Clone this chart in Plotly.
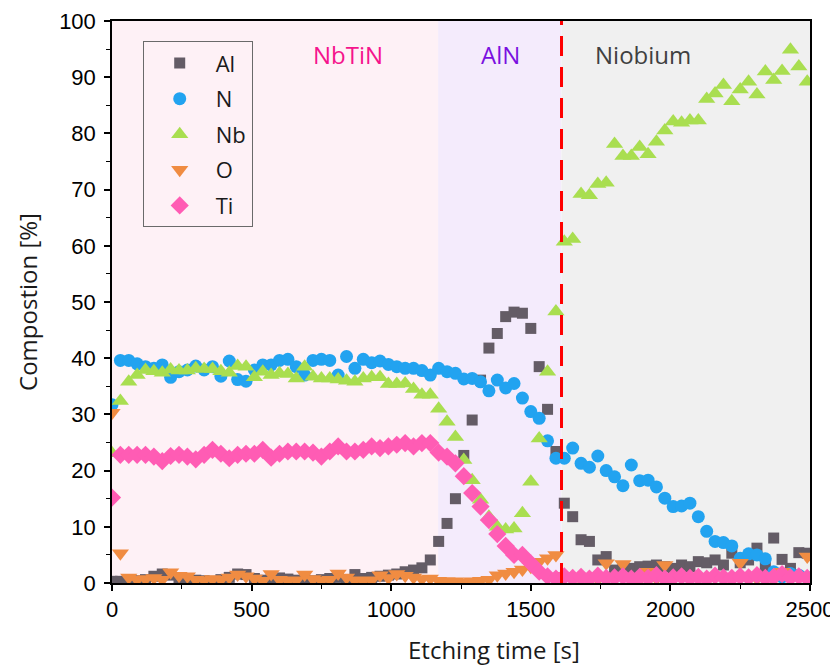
import plotly.graph_objects as go

# Etching time grid [s]
time_s = list(range(0, 2520, 30))

al = [0.3, 0.3, 0.5, 0.4, 0.6, 1.2, 1.6, 1.4, 0.8, 0.6, 0.5, 0.4, 0.3, 0.6, 1.0, 1.6, 1.5, 0.8, 0.5, 0.6,
      0.9, 0.7, 0.5, 0.6, 0.4, 0.6, 0.8, 1.0, 0.6, 1.5, 0.8, 1.0, 1.2, 1.4, 1.6, 2.0, 2.3, 2.7, 4.1, 7.4,
      10.6, 15.0, 22.7, 29.0, 36.1, 41.8, 44.4, 47.4, 48.2, 48.0, 45.3, 38.5, 30.9, 23.4, 14.2, 11.8, 7.7, 7.4, 4.1, 4.7,
      2.3, 2.6, 2.6, 2.9, 3.0, 3.2, 2.9, 2.6, 3.2, 2.9, 3.8, 3.6, 4.1, 3.2, 5.3, 3.6, 4.1, 6.2, 2.9, 8.0,
      4.2, 2.6, 5.4, 5.3]

n = [31.7, 39.6, 39.6, 39.0, 38.5, 38.2, 38.8, 36.6, 37.6, 37.9, 38.6, 37.9, 38.5, 36.8, 39.5, 36.2, 35.9, 37.9, 38.8, 38.8,
     39.6, 39.8, 38.5, 37.0, 39.6, 39.8, 39.6, 37.0, 40.3, 38.2, 39.8, 39.2, 39.5, 38.9, 38.5, 38.2, 38.2, 37.8, 37.0, 38.2,
     37.6, 37.3, 36.3, 36.4, 35.8, 34.2, 36.1, 34.7, 35.5, 32.9, 30.5, 29.3, 25.3, 22.2, 22.2, 24.0, 21.3, 20.6, 22.6, 20.0,
     18.9, 17.3, 21.0, 18.2, 18.3, 17.1, 15.1, 13.6, 13.7, 14.2, 11.8, 9.2, 7.4, 7.2, 6.6, 4.4, 5.2, 5.0, 4.3, 2.0,
     1.1, 1.7, 1.4, 1.0]

nb = [23.1, 32.4, 35.8, 37.0, 37.9, 37.7, 37.4, 38.0, 37.8, 37.8, 38.2, 38.1, 38.1, 37.7, 37.4, 38.6, 38.5, 36.6, 37.6, 37.0,
      37.3, 37.2, 36.4, 38.5, 36.7, 36.4, 36.4, 36.2, 36.0, 35.8, 36.4, 36.6, 36.6, 35.4, 35.4, 35.5, 34.5, 33.5, 33.5, 31.0,
      28.7, 26.0, 21.9, 18.3, 14.8, 11.8, 10.0, 9.5, 9.7, 12.4, 18.0, 25.7, 37.6, 48.3, 60.7, 61.2, 69.2, 69.0, 71.0, 71.2,
      78.1, 76.0, 76.0, 77.6, 76.3, 78.5, 80.5, 82.1, 81.9, 82.3, 82.3, 86.1, 87.1, 88.6, 85.7, 87.8, 89.2, 86.9, 91.0, 89.5,
      91.1, 94.9, 91.9, 89.2]

o = [30.3, 5.3, 1.0, 0.6, 0.7, 0.9, 0.6, 1.9, 1.3, 1.2, 0.6, 0.5, 0.7, 0.6, 1.0, 1.5, 1.2, 0.8, 0.4, 1.6,
     0.6, 0.4, 0.5, 1.5, 0.7, 0.4, 0.6, 1.7, 1.0, 0.5, 0.4, 0.5, 1.4, 0.9, 1.6, 1.3, 1.0, 0.7, 0.8, 0.4,
     0.3, 0.3, 0.2, 0.3, 0.4, 0.6, 1.4, 1.7, 2.0, 2.4, 2.9, 3.8, 4.4, 5.0, 1.3, 0.8, 0.6, 1.0, 0.7, 3.5,
     0.8, 3.4, 0.9, 0.6, 2.0, 0.8, 3.2, 0.7, 0.9, 0.6, 0.8, 0.7, 1.0, 0.6, 0.9, 3.6, 0.7, 0.8, 1.0, 0.6,
     2.0, 0.7, 1.2, 4.7]

ti = [15.2, 22.8, 22.8, 22.8, 22.8, 22.5, 21.7, 22.6, 22.8, 22.5, 22.0, 22.8, 23.7, 23.0, 22.2, 22.8, 23.0, 23.0, 23.7, 22.3,
      23.0, 23.4, 23.4, 23.4, 23.2, 22.5, 23.4, 24.3, 23.4, 23.4, 23.7, 24.3, 24.0, 24.3, 24.6, 24.9, 24.3, 24.9, 24.9, 23.2,
      22.5, 21.3, 19.0, 16.0, 13.6, 11.2, 8.7, 6.6, 5.0, 5.0, 3.5, 2.0, 1.2, 0.8, 1.2, 0.9, 1.1, 0.8, 1.3, 0.9,
      1.0, 1.2, 0.8, 1.1, 0.9, 1.4, 0.8, 1.0, 1.2, 0.9, 1.1, 0.8, 1.3, 1.0, 0.9, 1.2, 1.0, 1.4, 0.9, 1.1,
      1.6, 1.0, 1.2, 0.9]

# Regions
region_names = ["NbTiN", "AlN", "Niobium"]
region_starts = [0, 1168, 1610]
region_ends = [1168, 1610, 2500]
region_fills = ["#FEF1F6", "#F4EBFC", "#F0F0F0"]
region_text_colors = ["#F5148C", "#7A10E0", "#404040"]
region_label_x = [845, 1390, 1902]
region_label_y = 94
boundary_time = 1610

x_title = "Etching time [s]"
y_title = "Compostion [%]"

series = [
    ("Al", al, "square", "#645C66", 11),
    ("N", n, "circle", "#22A3F0", 13),
    ("Nb", nb, "triangle-up", "#A9DE50", 15),
    ("O", o, "triangle-down", "#F08C42", 15),
    ("Ti", ti, "diamond", "#FF5CB4", 14),
]

fig = go.Figure()
for name, vals, sym, col, sz in series:
    fig.add_trace(go.Scatter(
        x=time_s, y=vals, mode="markers", name=name,
        marker=dict(symbol=sym, color=col, size=sz, line=dict(width=0)),
        legendgroup=name, cliponaxis=True,
    ))

for s, e, c in zip(region_starts, region_ends, region_fills):
    fig.add_shape(type="rect", xref="x", yref="paper", x0=s, x1=e, y0=0, y1=1,
                  fillcolor=c, line=dict(width=0), layer="below")

fig.add_shape(type="line", xref="x", yref="paper", x0=boundary_time, x1=boundary_time, y0=0, y1=1,
              line=dict(color="#FF0000", width=3, dash="20px,11px"), layer="above")

for name, lx, tc in zip(region_names, region_label_x, region_text_colors):
    fig.add_annotation(x=lx, y=region_label_y, xref="x", yref="y", text=name, showarrow=False,
                       font=dict(family="Open Sans", size=24, color=tc), xanchor="center", yanchor="middle")

# x-axis title (placed slightly right of centre as in the original)
fig.add_annotation(x=0.547, y=-0.118, xref="paper", yref="paper", text=x_title, showarrow=False,
                   font=dict(family="Open Sans", size=24, color="#1a1a1a"), xanchor="center", yanchor="middle")

tick_font = dict(family="Liberation Sans, Arial", size=22, color="black")
title_font = dict(family="Open Sans", size=24, color="#1a1a1a")

# The page body adds an 8px offset, so the figure is 8px smaller to fit the 838x666 window.
fig.update_layout(
    width=830, height=658,
    margin=dict(l=104, r=28, t=13, b=83),
    paper_bgcolor="white", plot_bgcolor="white",
    showlegend=True,
    legend=dict(x=0.044, y=0.964, xanchor="left", yanchor="top",
                bgcolor="rgba(0,0,0,0)", bordercolor="#6a6a6a", borderwidth=1,
                font=dict(family="Open Sans", size=22, color="#1a1a1a"),
                tracegroupgap=4, itemwidth=62),
    xaxis=dict(range=[0, 2500], dtick=500, tick0=0, showgrid=False, zeroline=False,
               showline=True, linecolor="black", linewidth=1.5, mirror=True, automargin=False,
               ticks="outside", ticklen=6, tickwidth=1.5, tickcolor="black",
               minor=dict(ticks="outside", ticklen=4, dtick=250, tickcolor="black", tickwidth=1.2),
               tickfont=tick_font),
    yaxis=dict(range=[0, 100], dtick=10, tick0=0, showgrid=False, zeroline=False,
               showline=True, linecolor="black", linewidth=1.5, mirror=True, automargin=False,
               ticks="outside", ticklen=6, tickwidth=1.5, tickcolor="black",
               minor=dict(ticks="outside", ticklen=4, dtick=5, tickcolor="black", tickwidth=1.2),
               tickfont=tick_font, ticklabelstandoff=4,
               title=dict(text=y_title, font=title_font, standoff=15)),
)

fig.write_html("out.html")
